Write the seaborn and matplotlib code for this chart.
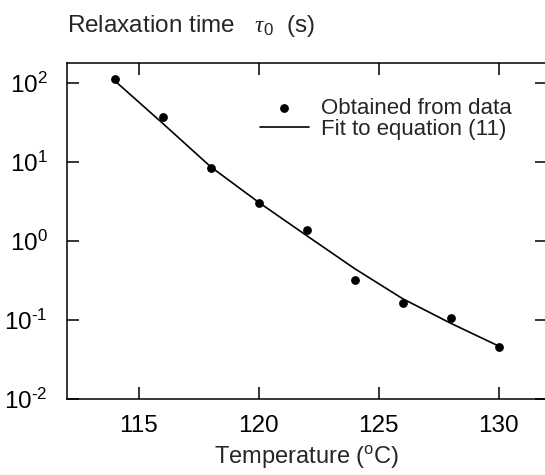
import numpy as np
import pandas as pd
import seaborn as sns
import matplotlib
matplotlib.use("Agg")
import matplotlib.pyplot as plt
from matplotlib.ticker import FixedLocator, FixedFormatter, NullLocator

# measured relaxation times
temp_obs = [114, 116, 118, 120, 122, 124, 126, 128, 130]
tau_obs = [112, 37, 8.4, 3.07, 1.37, 0.32, 0.166, 0.105, 0.046]

# fitted curve, equation (11)
temp_fit = [114, 116, 118, 120, 122, 124, 126, 128, 130]
tau_fit = [107, 30.9, 8.7, 3.09, 1.17, 0.447, 0.186, 0.091, 0.0468]

x_ticks = [115, 120, 125, 130]
y_ticks = [1e-2, 1e-1, 1e0, 1e1, 1e2]
y_tick_labels = [r'$\mathregular{10^{\text{-2}}}$', r'$\mathregular{10^{\text{-1}}}$',
                 r'$\mathregular{10^{0}}$', r'$\mathregular{10^{1}}$', r'$\mathregular{10^{2}}$']

sns.set_style("ticks")
plt.rcParams['font.family'] = ['Liberation Sans', 'DejaVu Sans']
plt.rcParams['mathtext.fontset'] = 'custom'
plt.rcParams['mathtext.rm'] = 'Liberation Sans'
plt.rcParams['mathtext.it'] = 'Liberation Serif:italic'

obs = pd.DataFrame({'T': temp_obs, 'tau': tau_obs})
fit = pd.DataFrame({'T': temp_fit, 'tau': tau_fit})

fig = plt.figure(figsize=(5.45, 4.75), dpi=100)
ax = fig.add_axes([66.7 / 545, 76 / 475, 480 / 545, 335.7 / 475])

sns.scatterplot(data=obs, x='T', y='tau', color='black', s=40, edgecolor='black',
                linewidth=0, label='Obtained from data', ax=ax, zorder=3)
sns.lineplot(data=fit, x='T', y='tau', color='black', linewidth=1.2,
             label='Fit to equation (11)', ax=ax)

ax.set_yscale('log')
ax.set_xlim(112, 132)
ax.set_ylim(1e-2, 10 ** 2.25)

ax.xaxis.set_major_locator(FixedLocator(x_ticks))
ax.yaxis.set_major_locator(FixedLocator(y_ticks))
ax.yaxis.set_major_formatter(FixedFormatter(y_tick_labels))
ax.yaxis.set_minor_locator(NullLocator())
ax.xaxis.set_minor_locator(NullLocator())

ax.tick_params(axis='both', which='major', direction='in', length=8.6, width=1.1,
               labelsize=17.5, top=True, right=True, color='black', labelcolor='black')
ax.tick_params(axis='x', pad=11.5)
ax.tick_params(axis='y', pad=13.5)
for sp in ax.spines.values():
    sp.set_visible(True)
    sp.set_linewidth(1.1)
    sp.set_color('black')

ax.set_xlabel(r'Temperature ($\mathregular{^{o}}$C)', fontsize=17, labelpad=5)
ax.set_ylabel('')

fig.text(66.7 / 545, 1 - 31.7 / 475, r'Relaxation time   $\tau_0$  (s)',
         fontsize=17.5, ha='left', va='baseline')

ax.legend(loc='upper left', bbox_to_anchor=(0.4027, 0.898), frameon=False,
          fontsize=16, borderaxespad=0, borderpad=0, handlelength=2.2,
          handletextpad=0.55, labelspacing=0.0, markerscale=1.0)

fig.savefig('out.png', dpi=100)
